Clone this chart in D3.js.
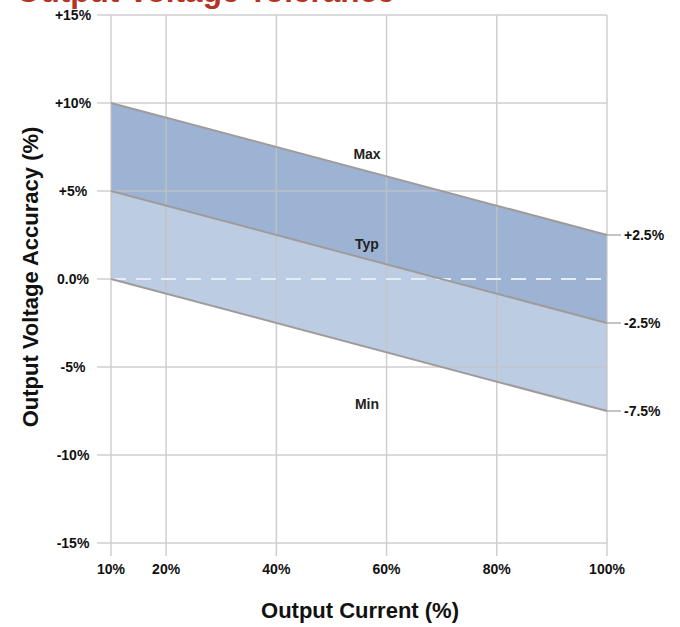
<!DOCTYPE html>
<html>
<head>
<meta charset="utf-8">
<script src="https://cdn.jsdelivr.net/npm/d3@7"></script>
<style>
  body { margin: 0; background: #fff; }
  text { font-family: "Liberation Sans", Arial, sans-serif; }
</style>
</head>
<body>
<div id="container"></div>
<script>
// Data
const currents = [10, 100];               // Output current (%)
const maxLine = [10, 2.5];                // accuracy at 10% and 100%
const typLine = [5, -2.5];
const minLine = [0, -7.5];
const xTicks = [10, 20, 40, 60, 80, 100];
const yTicks = [15, 10, 5, 0, -5, -10, -15];
const yTickLabels = ["+15%", "+10%", "+5%", "0.0%", "-5%", "-10%", "-15%"];
const rightLabels = ["+2.5%", "-2.5%", "-7.5%"];

const W = 680, H = 627;
const svg = d3.select("#container").append("svg")
    .attr("width", W).attr("height", H);

const x = d3.scaleLinear().domain([10, 100]).range([111, 607]);
const y = d3.scaleLinear().domain([-15, 15]).range([543, 15]);

const pts = arr => currents.map((c, i) => [c, arr[i]]);

// Bands
const band = (top, bottom) => d3.area()
    .x((d, i) => x(currents[i]))
    .y0((d, i) => y(bottom[i]))
    .y1((d, i) => y(top[i]))(currents);

svg.append("path").attr("d", band(maxLine, typLine)).attr("fill", "#9cb3d3");
svg.append("path").attr("d", band(typLine, minLine)).attr("fill", "#bccce2");

// Grid
const grid = svg.append("g").attr("stroke", "#c4c4c4").attr("stroke-width", 1.5).attr("opacity", 0.8);
grid.selectAll(".h").data(yTicks).enter().append("line")
    .attr("x1", 97).attr("x2", x(100))
    .attr("y1", d => y(d)).attr("y2", d => y(d))
    .attr("display", d => d === 0 ? "none" : null);
grid.append("line").attr("x1", 97).attr("x2", x(10)).attr("y1", y(0)).attr("y2", y(0));
grid.selectAll(".v").data(xTicks).enter().append("line")
    .attr("x1", d => x(d)).attr("x2", d => x(d))
    .attr("y1", y(15)).attr("y2", y(-15) + 13);

// Zero dashed line
svg.append("line")
    .attr("x1", x(10)).attr("x2", x(100))
    .attr("y1", y(0)).attr("y2", y(0))
    .attr("stroke", "#e4ecf6").attr("stroke-width", 2)
    .attr("stroke-dasharray", "15,10");

// Max / Typ / Min lines
const line = d3.line().x(d => x(d[0])).y(d => y(d[1]));
[maxLine, typLine, minLine].forEach(arr => {
    svg.append("path").attr("d", line(pts(arr)))
        .attr("fill", "none").attr("stroke", "#a09b9b").attr("stroke-width", 2);
});

// Right-hand end ticks and labels
const ends = [maxLine[1], typLine[1], minLine[1]];
svg.selectAll(".rt").data(ends).enter().append("line")
    .attr("x1", x(100)).attr("x2", x(100) + 14)
    .attr("y1", d => y(d)).attr("y2", d => y(d))
    .attr("stroke", "#b0b0b0").attr("stroke-width", 1.5);
svg.selectAll(".rl").data(ends).enter().append("text")
    .attr("x", 624).attr("y", d => y(d) + 5)
    .attr("font-size", 14).attr("font-weight", "bold").attr("fill", "#111")
    .text((d, i) => rightLabels[i]);

// Axis tick labels
svg.selectAll(".yl").data(yTicks).enter().append("text")
    .attr("x", 73).attr("y", d => y(d) + 5)
    .attr("text-anchor", "middle")
    .attr("font-size", 14).attr("font-weight", "bold").attr("fill", "#111")
    .text((d, i) => yTickLabels[i]);
svg.selectAll(".xl").data(xTicks).enter().append("text")
    .attr("x", d => x(d)).attr("y", 574)
    .attr("text-anchor", "middle")
    .attr("font-size", 14).attr("font-weight", "bold").attr("fill", "#111")
    .text(d => d + "%");

// Curve names
const names = [["Max", 7.1], ["Typ", 2.0], ["Min", -7.1]];
svg.selectAll(".nm").data(names).enter().append("text")
    .attr("x", 367).attr("y", d => y(d[1]) + 5)
    .attr("text-anchor", "middle")
    .attr("font-size", 14).attr("font-weight", "bold").attr("fill", "#222")
    .text(d => d[0]);

// Axis titles
svg.append("text")
    .attr("transform", `translate(38,277) rotate(-90)`)
    .attr("text-anchor", "middle")
    .attr("font-size", 22).attr("font-weight", "bold").attr("fill", "#111")
    .text("Output Voltage Accuracy (%)");
svg.append("text")
    .attr("x", 360).attr("y", 618)
    .attr("text-anchor", "middle")
    .attr("font-size", 22).attr("font-weight", "bold").attr("fill", "#111")
    .text("Output Current (%)");

// Title (clipped at the top edge)
svg.append("text")
    .attr("x", 16).attr("y", 1.5)
    .attr("font-size", 31.5).attr("font-weight", "bold").attr("fill", "#b83222")
    .text("Output Voltage Tolerance");
</script>
</body>
</html>
